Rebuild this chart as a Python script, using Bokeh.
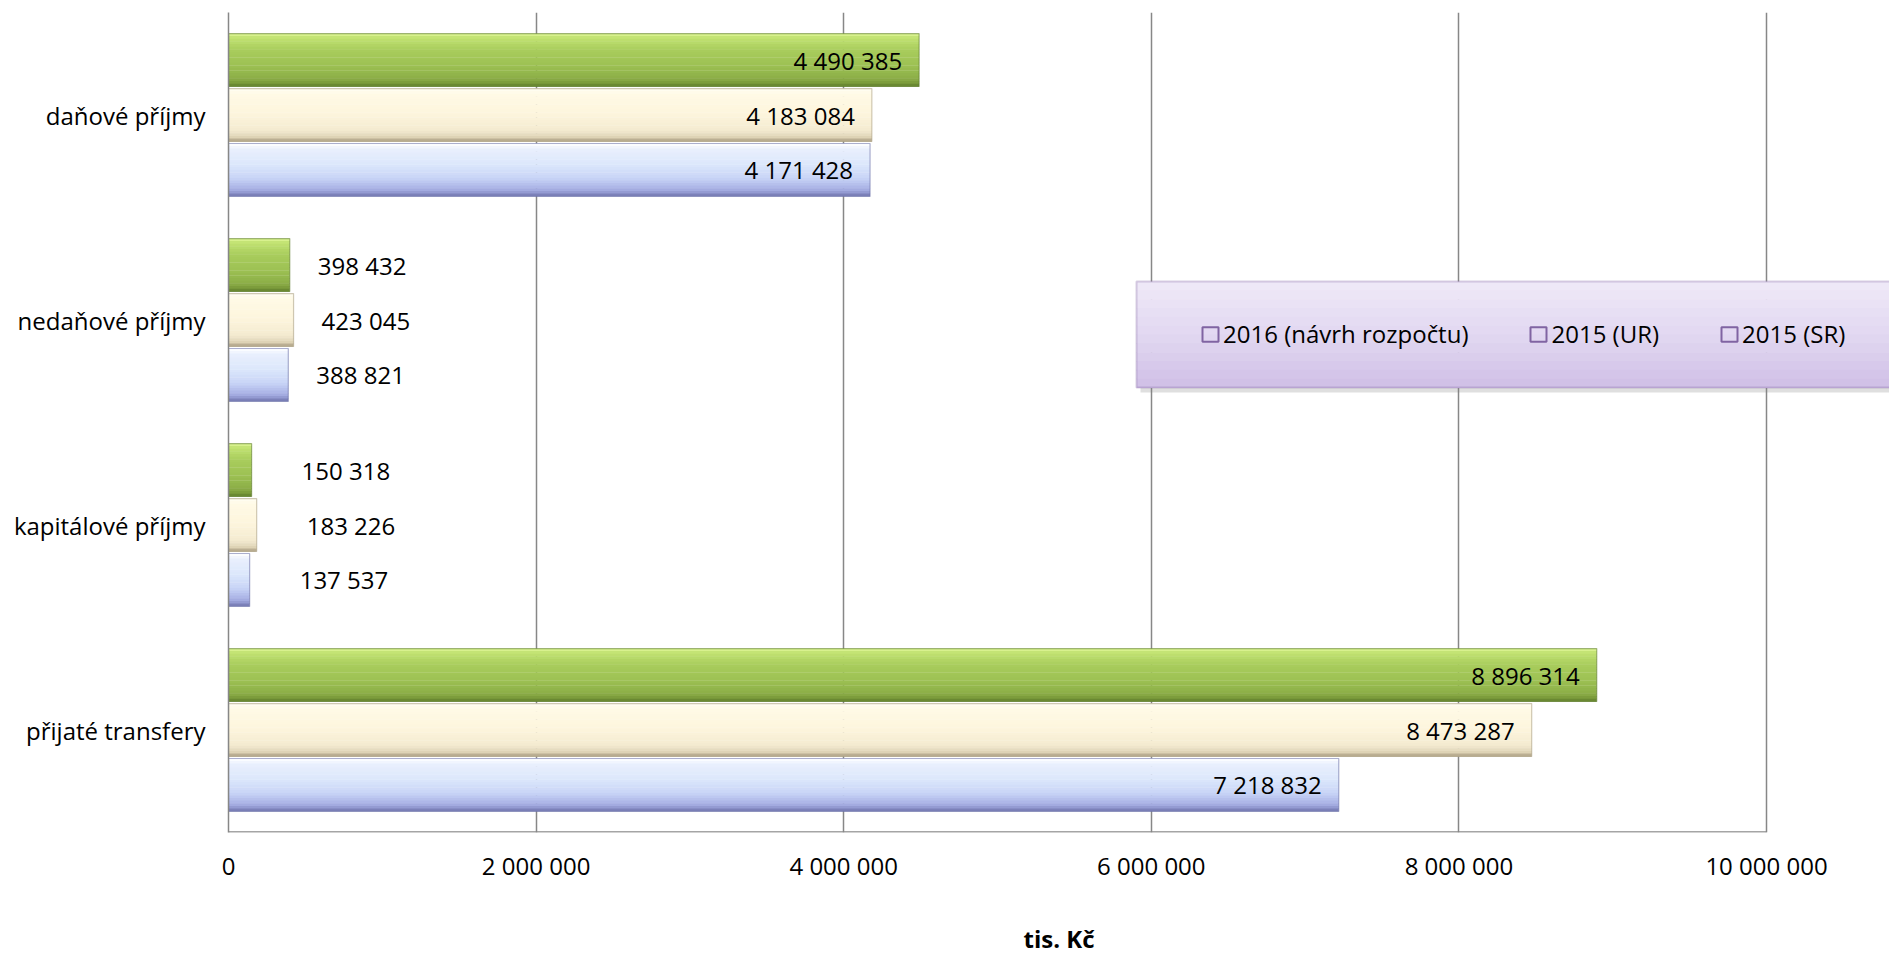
import numpy as np
from bokeh.plotting import figure
from bokeh.models import (FactorRange, Range1d, FixedTicker, Legend, LegendItem,
                          BoxAnnotation, ColumnDataSource)
from bokeh.transform import dodge
from bokeh.core.properties import value
from bokeh.embed import file_html
from bokeh.resources import INLINE

# ---------------- data ----------------
categories = ["daňové příjmy", "nedaňové příjmy", "kapitálové příjmy", "přijaté transfery"]
series_names = ["2016 (návrh rozpočtu)", "2015 (UR)", "2015 (SR)"]
values_2016 = [4490385, 398432, 150318, 8896314]
values_2015_ur = [4183084, 423045, 183226, 8473287]
values_2015_sr = [4171428, 388821, 137537, 7218832]
x_ticks = [0, 2000000, 4000000, 6000000, 8000000, 10000000]
x_tick_labels = ["0", "2 000 000", "4 000 000", "6 000 000", "8 000 000", "10 000 000"]
x_axis_title = "tis. Kč"

series_values = [values_2016, values_2015_ur, values_2015_sr]

# ---------------- style ----------------
FONT = "Open Sans"
FS = "24px"
GRID = "#878787"
W, H = 1889, 957
LEFT, TOP, BOTTOM = 228, 12, 121
PX_PER_UNIT = 1538 / 10000000          # frame pixels per data unit
x_end = (W - LEFT) / PX_PER_UNIT       # frame reaches the right edge

grad_stops = [
    [(0.0, "#e2f79a"), (0.08, "#c2e373"), (0.3, "#a9cd5d"), (0.6, "#9dc153"),
     (0.85, "#8cae47"), (0.95, "#789839"), (1.0, "#5c7a2c")],
    [(0.0, "#fffef4"), (0.1, "#fffae6"), (0.5, "#fdf5dc"), (0.8, "#f3ead0"),
     (0.93, "#ddd2b4"), (1.0, "#a89c80")],
    [(0.0, "#ffffff"), (0.12, "#e8effd"), (0.4, "#dce7fb"), (0.65, "#c9d5f7"),
     (0.85, "#aab3e6"), (0.95, "#8d93cc"), (1.0, "#6a6fa6")],
]
edge_colors = ["#5c7a2c", "#a89c80", "#6a6fa6"]
bar_offsets = [0.268, 0.0, -0.268]
bar_h = 0.258
N_STRIPS = 20
outside_pad = {"daňové příjmy": 26, "nedaňové příjmy": 28,
               "kapitálové příjmy": 50, "přijaté transfery": 26}


def hex2rgb(h):
    h = h.lstrip("#")
    return [int(h[i:i + 2], 16) for i in (0, 2, 4)]


def gradient(stops, n):
    pos = [s[0] for s in stops]
    cols = [hex2rgb(s[1]) for s in stops]
    out = []
    for i in range(n):
        t = (i + 0.5) / n
        rgb = [int(round(np.interp(t, pos, [c[k] for c in cols]))) for k in range(3)]
        out.append("#%02x%02x%02x" % tuple(rgb))
    return out


p = figure(width=W, height=H,
           y_range=FactorRange(factors=categories[::-1], range_padding=0),
           x_range=Range1d(0, x_end),
           output_backend="svg", toolbar_location=None,
           min_border_left=LEFT, min_border_right=0,
           min_border_top=TOP, min_border_bottom=BOTTOM)
p.outline_line_color = None
p.background_fill_color = "white"
p.border_fill_color = "white"

# grid / axes
p.ygrid.grid_line_color = None
p.xgrid.grid_line_color = GRID
p.xgrid.grid_line_width = 1.5
p.xaxis.ticker = FixedTicker(ticks=x_ticks)
p.xaxis.major_label_overrides = {t: l for t, l in zip(x_ticks, x_tick_labels)}
for ax in (p.xaxis[0], p.yaxis[0]):
    ax.axis_line_color = GRID
    ax.axis_line_width = 1.5
    ax.major_tick_in = 0
    ax.major_tick_out = 0
    ax.minor_tick_line_color = None
    ax.major_tick_line_color = None
    ax.major_label_text_font = FONT
    ax.major_label_text_font_size = FS
    ax.major_label_text_color = "black"
p.xaxis.axis_line_color = None
p.xaxis.major_label_standoff = 16
p.yaxis.major_label_standoff = 23
p.xaxis.axis_label = x_axis_title
p.xaxis.axis_label_text_font = FONT
p.xaxis.axis_label_text_font_style = "bold"
p.xaxis.axis_label_text_font_size = FS
p.xaxis.axis_label_text_color = "black"
p.xaxis.axis_label_standoff = 37

# bars with vertical gradient
for s, vals in enumerate(series_values):
    src = ColumnDataSource(dict(cat=categories, val=vals))
    cols = gradient(grad_stops[s], N_STRIPS)
    sh = bar_h / N_STRIPS
    for i in range(N_STRIPS):
        c = bar_offsets[s] + bar_h / 2 - (i + 0.5) * sh
        p.hbar(y=dodge("cat", c, range=p.y_range), left=0, right="val",
               height=sh * 1.15, fill_color=cols[i], line_color=None, source=src)
    p.hbar(y=dodge("cat", bar_offsets[s], range=p.y_range), left=0, right="val",
           height=bar_h, fill_color=None, line_color=edge_colors[s],
           line_alpha=0.55, line_width=1.2, source=src)

    txt = [f"{v:,}".replace(",", " ") for v in vals]
    ins = dict(cat=[], val=[], txt=[])
    out = dict(cat=[], val=[], txt=[], pad=[])
    for c_, v_, t_ in zip(categories, vals, txt):
        if v_ > 1000000:
            ins["cat"].append(c_); ins["val"].append(v_); ins["txt"].append(t_)
        else:
            out["cat"].append(c_); out["val"].append(v_); out["txt"].append(t_)
            out["pad"].append(outside_pad[c_])
    p.text(x="val", y=dodge("cat", bar_offsets[s], range=p.y_range), text="txt",
           source=ColumnDataSource(ins), text_align="right", text_baseline="middle",
           x_offset=-17, text_font=value(FONT), text_font_size=FS, text_color="black")
    p.text(x="val", y=dodge("cat", bar_offsets[s], range=p.y_range), text="txt",
           source=ColumnDataSource(out), text_align="left", text_baseline="middle",
           x_offset="pad", text_font=value(FONT), text_font_size=FS, text_color="black")

# bottom axis line, only up to the last tick
p.segment(x0=x_ticks[0], x1=x_ticks[-1],
          y0=dodge("cat", -0.498, range=p.y_range), y1=dodge("cat", -0.498, range=p.y_range),
          source=ColumnDataSource(dict(cat=[categories[-1]])),
          line_color=GRID, line_width=1.5)

# legend background box (screen units relative to the frame)
BL, BR, BT, BB = 908, 1700, 551, 445
p.add_layout(BoxAnnotation(left=BL + 4, right=BR, top=BB, bottom=BB - 5,
                           left_units="screen", right_units="screen",
                           top_units="screen", bottom_units="screen",
                           fill_color="#808080", fill_alpha=0.25, line_color=None))
lg_cols = gradient([(0, "#efe9f8"), (0.5, "#e2d8f1"), (1, "#cfbfe6")], 12)
step = (BT - BB) / 12
for i, col in enumerate(lg_cols):
    top = BT - i * step
    p.add_layout(BoxAnnotation(left=BL, right=BR, top=top, bottom=top - step - 0.6,
                               left_units="screen", right_units="screen",
                               top_units="screen", bottom_units="screen",
                               fill_color=col, fill_alpha=1, line_color=None))
p.add_layout(BoxAnnotation(left=BL, right=BR, top=BT, bottom=BB,
                           left_units="screen", right_units="screen",
                           top_units="screen", bottom_units="screen",
                           fill_alpha=0, line_color="#8064a2", line_width=2))

# legend swatches: outlined squares (hidden renderers, drawn only in the legend)
dummies = []
for _ in series_names:
    r = p.hbar(y=[categories[0]], left=[0], right=[x_ticks[1]], height=0.1,
               fill_alpha=0, line_color="#8064a2", line_width=2)
    r.visible = False
    dummies.append(r)
legend = Legend(items=[LegendItem(label=n, renderers=[r]) for n, r in zip(series_names, dummies)],
                orientation="horizontal", location=(972, 482), padding=0, margin=0,
                spacing=60, glyph_width=20, glyph_height=18, label_standoff=3,
                background_fill_alpha=0, border_line_alpha=0,
                inactive_fill_alpha=0, click_policy="none",
                label_text_font=FONT, label_text_font_size=FS, label_text_color="black")
p.add_layout(legend, "center")

open("out.html", "w").write(file_html(p, INLINE))
